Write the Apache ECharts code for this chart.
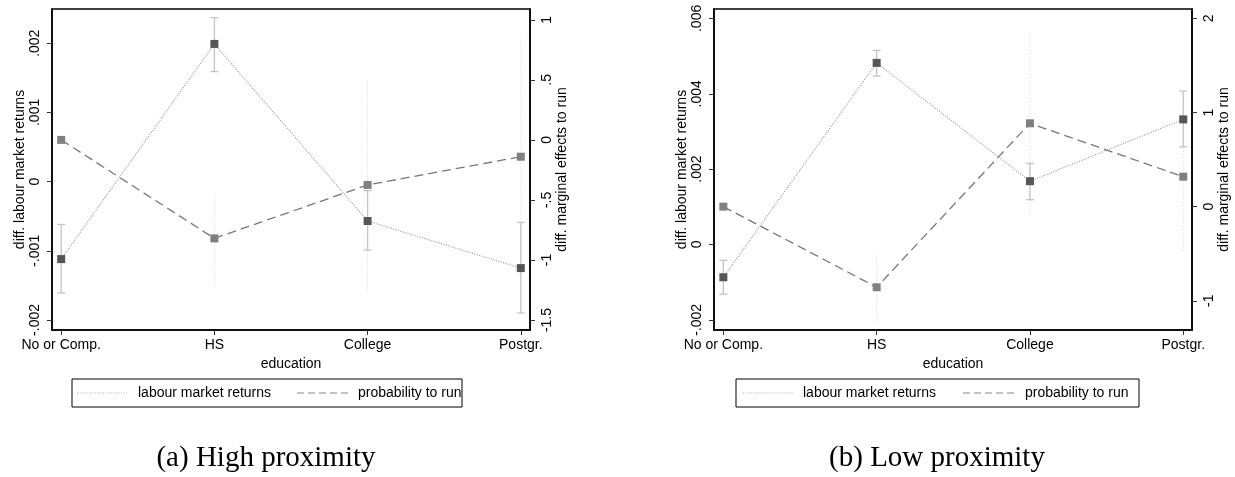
<!DOCTYPE html>
<html>
<head>
<meta charset="utf-8">
<script src="https://cdn.jsdelivr.net/npm/echarts@6/dist/echarts.min.js"></script>
<style>
  html, body { margin: 0; padding: 0; background: #fff; }
  #chart { width: 1235px; height: 477px; }
</style>
</head>
<body>
<div id="chart"></div>
<script>
// Education categories on the x axis
const categories = ['No or Comp.', 'HS', 'College', 'Postgr.'];

// (a) High proximity: labour market returns (left axis) with 95% CI
const hiReturns   = [-0.00112, 0.00199, -0.00057, -0.00125];
const hiReturnsLo = [-0.00161, 0.00159, -0.00099, -0.00190];
const hiReturnsHi = [-0.00062, 0.00237, -0.00013, -0.00059];
// (a) High proximity: marginal effects on running (right axis) with CI
const hiRun   = [0.0, -0.82, -0.375, -0.14];
const hiRunLo = [null, -1.21, -1.26, -1.13];
const hiRunHi = [null, -0.44, 0.51, 0.85];

// (b) Low proximity
const loReturns   = [-0.00087, 0.00482, 0.00168, 0.00332];
const loReturnsLo = [-0.00132, 0.00447, 0.00119, 0.00259];
const loReturnsHi = [-0.00042, 0.00515, 0.00215, 0.00407];
const loRun   = [0.0, -0.856, 0.885, 0.318];
const loRunLo = [null, -1.21, -0.10, -0.47];
const loRunHi = [null, -0.50, 1.86, 1.11];

// Tick values
const hiLeftTicks  = [-0.002, -0.001, 0, 0.001, 0.002];
const hiRightTicks = [-1.5, -1, -0.5, 0, 0.5, 1];
const loLeftTicks  = [-0.002, 0, 0.002, 0.004, 0.006];
const loRightTicks = [-1, 0, 1, 2];
const catTicks = [0, 1, 2, 3];

const FONT = '"Liberation Sans", Arial, sans-serif';

// Stata-style number labels: ".002", "-.5", "0"
function stataFmt(v) {
  let s = String(+Number(v).toFixed(6));
  return s.replace(/^(-?)0\./, '$1.');
}

function points(vals) { return vals.map((v, i) => [i, v]); }
function bars(lo, hi) {
  const out = [];
  lo.forEach((l, i) => { if (l != null && hi[i] != null) out.push([i, l, hi[i]]); });
  return out;
}

function errorBarSeries(data, xi, yi, style) {
  return {
    type: 'custom',
    xAxisIndex: xi, yAxisIndex: yi,
    z: 1, silent: true,
    data: data,
    renderItem: function (params, api) {
      const x = api.value(0);
      const a = api.coord([x, api.value(1)]);
      const b = api.coord([x, api.value(2)]);
      const children = [{
        type: 'line',
        shape: { x1: a[0], y1: a[1], x2: b[0], y2: b[1] },
        style: style
      }];
      if (style.capHalf) {
        const h = style.capHalf;
        children.push({ type: 'line', shape: { x1: a[0] - h, y1: a[1], x2: a[0] + h, y2: a[1] }, style: style });
        children.push({ type: 'line', shape: { x1: b[0] - h, y1: b[1], x2: b[0] + h, y2: b[1] }, style: style });
      }
      return { type: 'group', children: children };
    }
  };
}

const solidCI = { stroke: '#c4c4c4', lineWidth: 1.3, capHalf: 4 };
const dottedCI = { stroke: '#d6d6d6', lineWidth: 1, lineDash: [1, 2] };

function grid(left) {
  return { left: left, top: 9, width: 478, height: 321, show: true, borderColor: '#000', borderWidth: 1.5, backgroundColor: '#fff' };
}

function xAxis(gi, min, max) {
  return {
    type: 'value', gridIndex: gi, min: min, max: max,
    name: 'education', nameLocation: 'middle', nameGap: 25,
    nameTextStyle: { color: '#000', fontFamily: FONT, fontSize: 14 },
    splitLine: { show: false },
    axisLine: { show: true, onZero: false, lineStyle: { color: '#000', width: 1.5 } },
    axisTick: { show: true, length: 5, customValues: catTicks, lineStyle: { color: '#333' } },
    axisLabel: {
      customValues: catTicks, margin: 8, color: '#000', fontFamily: FONT, fontSize: 14,
      formatter: v => categories[Math.round(v)]
    }
  };
}

function yAxis(gi, pos, min, max, ticks, name, nameGap, margin) {
  return {
    type: 'value', gridIndex: gi, position: pos, min: min, max: max,
    name: name, nameLocation: 'middle', nameGap: nameGap,
    nameTextStyle: { color: '#000', fontFamily: FONT, fontSize: 14 },
    splitLine: { show: false },
    axisLine: { show: true, onZero: false, lineStyle: { color: '#000', width: 1.5 } },
    axisTick: { show: true, length: 5, customValues: ticks, lineStyle: { color: '#333' } },
    axisLabel: {
      customValues: ticks, rotate: 90, margin: margin, color: '#000', fontFamily: FONT, fontSize: 14,
      formatter: stataFmt
    }
  };
}

function returnsLine(vals, xi, yi) {
  return {
    type: 'line', name: 'labour market returns', xAxisIndex: xi, yAxisIndex: yi,
    data: points(vals), z: 3,
    symbol: 'rect', symbolSize: 8, showSymbol: true,
    itemStyle: { color: '#565656' },
    lineStyle: { color: '#999', width: 1.2, type: [1, 1.5] },
    emphasis: { disabled: true }
  };
}
function runLine(vals, xi, yi) {
  return {
    type: 'line', name: 'probability to run', xAxisIndex: xi, yAxisIndex: yi,
    data: points(vals), z: 3,
    symbol: 'rect', symbolSize: 8, showSymbol: true,
    itemStyle: { color: '#808080' },
    lineStyle: { color: '#777', width: 1.3, type: [9, 5] },
    emphasis: { disabled: true }
  };
}

// Legend boxes and panel captions
function legendBox(x, w, dotX, txt1X, dashX, txt2X) {
  const y = 393;
  return {
    type: 'group', children: [
      { type: 'rect', shape: { x: x, y: 379, width: w, height: 28 }, style: { fill: '#fff', stroke: '#000', lineWidth: 1 } },
      { type: 'line', shape: { x1: dotX, y1: y, x2: dotX + 50, y2: y }, style: { stroke: '#aaa', lineWidth: 1, lineDash: [1, 1.6] } },
      { type: 'text', x: txt1X, y: y, style: { text: 'labour market returns', fill: '#000', font: '14px ' + FONT, verticalAlign: 'middle' } },
      { type: 'line', shape: { x1: dashX, y1: y, x2: dashX + 53, y2: y }, style: { stroke: '#888', lineWidth: 1.2, lineDash: [7, 4] } },
      { type: 'text', x: txt2X, y: y, style: { text: 'probability to run', fill: '#000', font: '14px ' + FONT, verticalAlign: 'middle' } }
    ]
  };
}
function caption(cx, text) {
  return { type: 'text', x: cx, y: 458, style: { text: text, fill: '#000', font: '29px "Liberation Serif", "DejaVu Serif", serif', align: 'center', verticalAlign: 'middle' } };
}

const chart = echarts.init(document.getElementById('chart'), null, { renderer: 'canvas' });
chart.setOption({
  animation: false,
  backgroundColor: '#fff',
  grid: [grid(52), grid(714)],
  xAxis: [xAxis(0, -0.06, 3.06), xAxis(1, -0.061, 3.057)],
  yAxis: [
    yAxis(0, 'left', -0.002145, 0.002495, hiLeftTicks, 'diff. labour market returns', 25, 10),
    yAxis(0, 'right', -1.583, 1.09, hiRightTicks, 'diff. marginal effects to run', 25, 10),
    yAxis(1, 'left', -0.00227, 0.00625, loLeftTicks, 'diff. labour market returns', 25, 10),
    yAxis(1, 'right', -1.31, 2.099, loRightTicks, 'diff. marginal effects to run', 25, 10)
  ],
  series: [
    errorBarSeries(bars(hiRunLo, hiRunHi), 0, 1, dottedCI),
    errorBarSeries(bars(hiReturnsLo, hiReturnsHi), 0, 0, solidCI),
    returnsLine(hiReturns, 0, 0),
    runLine(hiRun, 0, 1),
    errorBarSeries(bars(loRunLo, loRunHi), 1, 3, dottedCI),
    errorBarSeries(bars(loReturnsLo, loReturnsHi), 1, 2, solidCI),
    returnsLine(loReturns, 1, 2),
    runLine(loRun, 1, 3)
  ],
  graphic: [
    legendBox(72, 390, 77, 138, 297, 358),
    legendBox(736, 403, 743, 803, 963, 1025),
    caption(266, '(a) High proximity'),
    caption(937, '(b) Low proximity')
  ]
});
</script>
</body>
</html>
